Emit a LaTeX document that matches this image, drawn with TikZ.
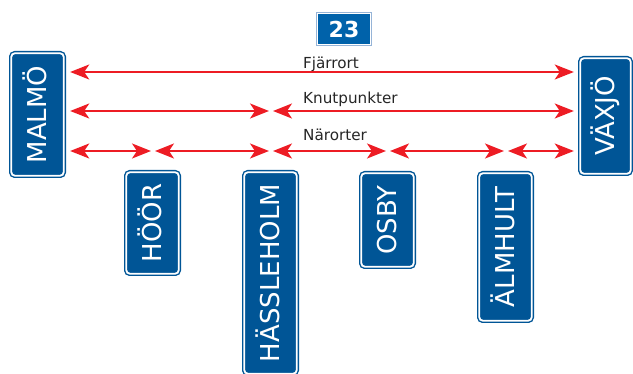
\documentclass[tikz,border=0pt]{standalone}
\usepackage{fontspec}
\setmainfont{DejaVu Sans}
\usetikzlibrary{arrows.meta}
\definecolor{signblue}{RGB}{0,85,150}
\definecolor{numblue}{RGB}{0,98,170}
\definecolor{numedge}{RGB}{150,180,215}
\definecolor{arrred}{RGB}{237,28,36}
\newcommand{\signtxt}[1]{\rotatebox{90}{\smash{#1}\vphantom{H}}}
\tikzset{
  sign/.style={fill=signblue, draw=white, line width=1.8pt, rounded corners=3.5pt,
    preaction={draw=signblue, line width=4.6pt}, inner sep=0pt, outer sep=0pt,
    text=white, font=\fontsize{26}{26}\selectfont},
  numsign/.style={fill=numblue, draw=white, line width=1.6pt,
    preaction={draw=numedge, line width=2.8pt}, inner sep=0pt, outer sep=0pt,
    text=white, font=\fontsize{22}{22}\selectfont\bfseries},
  arr/.style={draw=arrred, line width=2pt,
    {Stealth[length=19pt,width=15pt,inset=5pt]}-{Stealth[length=19pt,width=15pt,inset=5pt]}},
  lbl/.style={anchor=base west, inner sep=0pt, font=\fontsize{15.2}{15.2}\selectfont, text=black!85}
}
\begin{document}
\begin{tikzpicture}[x=1pt,y=-1pt]
\useasboundingbox (0,0) rectangle (633,374);
% signs
\node[sign, minimum width=52.4pt, minimum height=122.4pt] (malmo) at (37.5,114.5) {\signtxt{MALMÖ}};
\node[sign, minimum width=50.4pt, minimum height=115.4pt] (vaxjo) at (605.5,116) {\signtxt{VÄXJÖ}};
\node[sign, minimum width=52.4pt, minimum height=101.4pt] (hoor) at (152.5,223) {\signtxt{HÖÖR}};
\node[sign, minimum width=52.4pt, minimum height=201.4pt] (hassle) at (270.5,273) {\signtxt{HÄSSLEHOLM}};
\node[sign, minimum width=52.4pt, minimum height=93.4pt] (osby) at (387.5,220) {\signtxt{OSBY}};
\node[sign, minimum width=52.4pt, minimum height=147.4pt] (almhult) at (505.5,247) {\signtxt{ÄLMHULT}};
\node[numsign, minimum width=53.2pt, minimum height=31.2pt] (route) at (344,29) {23};
% rows
\coordinate (r1) at (0,72);
\coordinate (r2) at (0,111);
\coordinate (r3) at (0,151);
% labels
\node[lbl] (lf) at (303,68.3) {Fjärrort};
\node[lbl] (lk) at (303,104) {Knutpunkter};
\node[lbl] (ln) at (303,141) {Närorter};
% arrows
\draw[arr, shorten <=6.5pt, shorten >=6.5pt] (malmo.east |- r1) -- (vaxjo.west |- r1);
\draw[arr, shorten <=6.5pt, shorten >=1.5pt] (malmo.east |- r2) -- (hassle.north |- r2);
\draw[arr, shorten <=2.5pt, shorten >=6.5pt] (hassle.north |- r2) -- (vaxjo.west |- r2);
\draw[arr, shorten <=6.5pt, shorten >=1.5pt] (malmo.east |- r3) -- (hoor.north |- r3);
\draw[arr, shorten <=2.5pt, shorten >=1.5pt] (hoor.north |- r3) -- (hassle.north |- r3);
\draw[arr, shorten <=2.5pt, shorten >=1.5pt] (hassle.north |- r3) -- (osby.north |- r3);
\draw[arr, shorten <=2.5pt, shorten >=1.5pt] (osby.north |- r3) -- (almhult.north |- r3);
\draw[arr, shorten <=2.5pt, shorten >=6.5pt] (almhult.north |- r3) -- (vaxjo.west |- r3);
\end{tikzpicture}
\end{document}
